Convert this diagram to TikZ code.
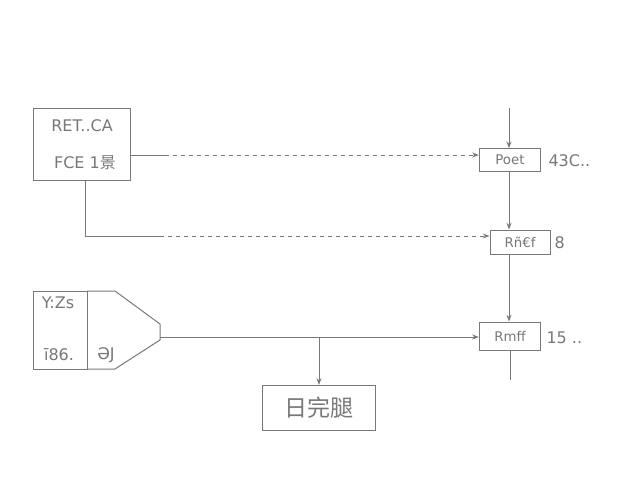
\documentclass[tikz,border=0pt]{standalone}
\usepackage{fontspec}
\setmainfont{DejaVu Sans}
\newfontfamily\cjk{Noto Sans CJK SC}
\usetikzlibrary{arrows.meta}
\definecolor{pencil}{RGB}{120,120,120}
\tikzset{every picture/.style={line width=0.75pt}}
\tikzset{blk/.style={draw=pencil,rectangle,inner sep=0pt,text=pencil,font=\normalsize},
  lbl/.style={text=pencil,inner sep=0.75pt,font=\large},
  flow/.style={draw=pencil,-{Stealth[length=5pt]}},
  dsh/.style={draw=pencil,dashed,-{Stealth[length=5pt]}}}
\begin{document}
\begin{tikzpicture}[x=0.75pt,y=0.75pt,yscale=-1,xscale=1]
	\path[fill=white] (0,0) rectangle (640,480);
	
	%Source box
	\draw[pencil] (33,108) rectangle (130,180);
	\node[lbl] (srcA) at (82,126) {RET..CA};
	\node[lbl] (srcB) at (85,163) {FCE 1{\cjk 景}};
	\coordinate (srcR) at (130,155);
	\coordinate (srcD) at (85,180);
	
	%Right column boxes
	\node[blk,minimum width=46pt,minimum height=17pt] (poet) at (510,160) {Poet};
	\node[blk,minimum width=45pt,minimum height=18pt] (rnef) at (520,242) {Rñ€f};
	\node[blk,minimum width=46pt,minimum height=21pt] (rmff) at (510,336) {Rmff};
	\node[lbl,anchor=west] (poetV) at (547,161) {43C..};
	\node[lbl,anchor=west] (rnefV) at (553,243) {8};
	\node[lbl,anchor=west] (rmffV) at (545,338) {15 ..};
	\coordinate (topIn) at (509,108);
	\coordinate (botOut) at (510,380);
	
	%Gate shape
	\draw[pencil] (33,291) rectangle (87,369);
	\draw[pencil] (87,291) -- (115,291) -- (160,324) -- (160,340) -- (115,369) -- (87,369);
	\node[lbl] (gA) at (58,303) {Y:Zs};
	\node[lbl] (gB) at (59,355) {ī86.};
	\node[lbl] (gC) at (106,355) {ƏJ};
	\coordinate (gateR) at (160,337);
	\coordinate (tapp) at (319,337);
	
	%Output box
	\node[blk,minimum width=85pt,minimum height=34pt,font=\cjk\LARGE] (out) at (319,408) {日完腿};
	
	%Connectors
	\draw[pencil] (srcR) -- (165,155);
	\draw[dsh] (165,155) -- (poet.west|-srcR);
	\draw[pencil] (srcD) |- (160,236);
	\draw[dsh] (160,236) -- (rnef.west|-160,236);
	\draw[flow] (topIn) -- (poet.north-|topIn);
	\draw[flow] (poet.south-|topIn) -- (rnef.north-|topIn);
	\draw[flow] (rnef.south-|topIn) -- (rmff.north-|topIn);
	\draw[pencil] (rmff.south-|botOut) -- (botOut);
	\draw[flow] (gateR) -- (rmff.west|-gateR);
	\draw[flow] (tapp) -- (out.north);
	
\end{tikzpicture}
\end{document}
